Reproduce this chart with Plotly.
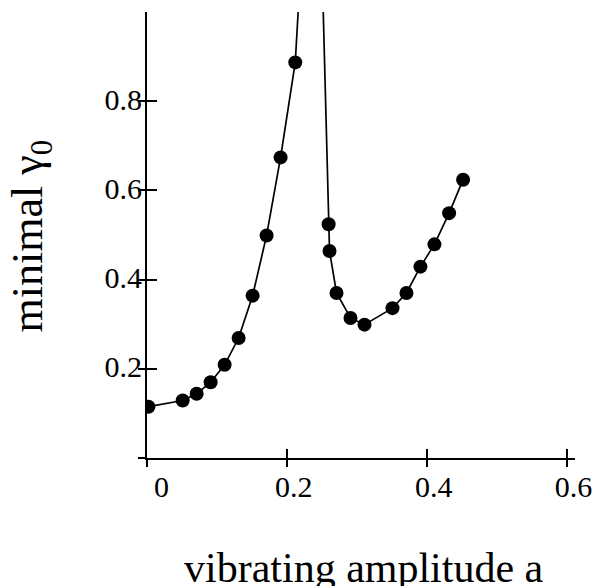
import plotly.graph_objects as go

# left branch (rises toward the resonance, last point lies above the visible range)
a_left = [0.002, 0.051, 0.071, 0.091, 0.111, 0.131, 0.151, 0.171, 0.191, 0.212, 0.23]
g_left = [0.115, 0.129, 0.144, 0.170, 0.209, 0.269, 0.364, 0.499, 0.674, 0.887, 1.38]

# right branch (first point lies above the visible range)
a_right = [0.25, 0.2597, 0.261, 0.271, 0.291, 0.311, 0.351, 0.371, 0.391, 0.411, 0.432, 0.452]
g_right = [1.12, 0.524, 0.464, 0.370, 0.314, 0.299, 0.336, 0.370, 0.429, 0.479, 0.549, 0.624]

x_ticks = [0, 0.2, 0.4, 0.6]
x_ticktext = ["\u00a0\u00a00", "0.2", "0.4", "0.6"]
y_ticks = [0, 0.2, 0.4, 0.6, 0.8]
y_ticktext = ["", "0.2", "0.4", "0.6", "0.8"]

FONT = "Liberation Serif"
X_RANGE = [0, 0.612]
Y_RANGE = [0, 1.0]

fig = go.Figure()
for xs, ys in ((a_left, g_left), (a_right, g_right)):
    fig.add_trace(go.Scatter(
        x=xs, y=ys, mode="lines+markers",
        line=dict(color="black", width=1.7),
        marker=dict(color="black", size=14),
        cliponaxis=True, showlegend=False, hoverinfo="skip"))

# dummy trace for the overlay axes (outer halves of the crossing ticks)
fig.add_trace(go.Scatter(x=[], y=[], xaxis="x2", yaxis="y2",
                         showlegend=False, hoverinfo="skip"))

axis_common = dict(showgrid=False, zeroline=False, color="black",
                   tickcolor="black", tickwidth=1.7)

fig.update_layout(
    width=604, height=586,
    margin=dict(l=147, r=17, t=12, b=128),
    paper_bgcolor="white", plot_bgcolor="white",
    font=dict(family=FONT, color="black", size=30),
    xaxis=dict(range=X_RANGE, tickvals=x_ticks, ticktext=x_ticktext,
               ticks="inside", ticklen=9, showline=True, linewidth=2,
               linecolor="black", tickfont=dict(family=FONT, size=30),
               ticklabelshift=7, ticklabelstandoff=1,
               ticklabeloverflow="allow", **axis_common),
    yaxis=dict(range=Y_RANGE, tickvals=y_ticks, ticktext=y_ticktext,
               ticks="inside", ticklen=10, showline=True, linewidth=2,
               linecolor="black", tickfont=dict(family=FONT, size=30),
               ticklabelstandoff=-3, ticklabelshift=-2,
               ticklabeloverflow="allow", **axis_common),
    xaxis2=dict(range=X_RANGE, overlaying="x", anchor="y2", side="bottom",
                tickvals=x_ticks, ticks="outside", ticklen=8,
                showticklabels=False, showline=False, **axis_common),
    yaxis2=dict(range=Y_RANGE, overlaying="y", anchor="x2", side="left",
                tickvals=y_ticks, ticks="outside", ticklen=8,
                showticklabels=False, showline=False, **axis_common),
    annotations=[
        dict(text="vibrating amplitude a", xref="paper", yref="paper",
             x=0.507, y=-0.2466, xanchor="center", yanchor="middle",
             showarrow=False, font=dict(family=FONT, size=42)),
        dict(text="minimal γ<sub>0</sub>", xref="paper", yref="paper",
             x=-0.270, y=0.4978, xanchor="center", yanchor="middle",
             textangle=-90, showarrow=False, font=dict(family=FONT, size=44)),
    ],
)

fig.write_html("out.html", config={"displayModeBar": False},
               post_script="document.body.style.margin='0px';")
